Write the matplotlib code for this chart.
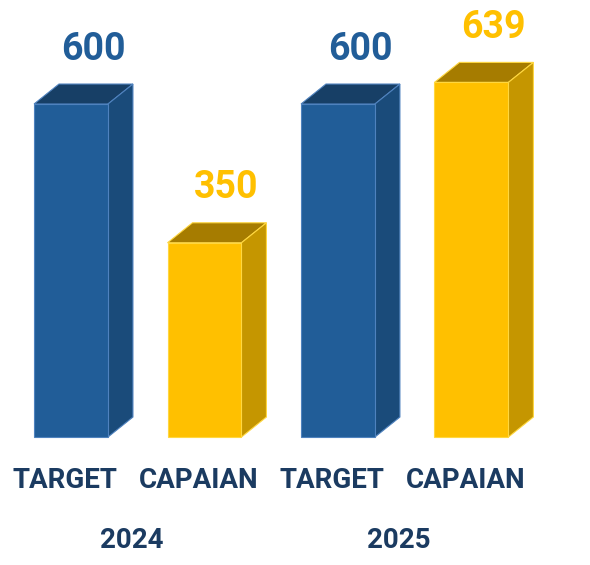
import matplotlib
matplotlib.use("Agg")
import matplotlib.pyplot as plt
from matplotlib.patches import Polygon

categories = ["TARGET", "CAPAIAN", "TARGET", "CAPAIAN"]
years = ["2024", "2025"]
values = [600, 350, 600, 639]
kinds = ["target", "actual", "target", "actual"]

colors = {
    "target": dict(front="#215D98", top="#173F66", side="#1A4B7A", edge="#4F82BE", text="#215D98"),
    "actual": dict(front="#FFC000", top="#A67C00", side="#C59600", edge="#FFD740", text="#FFC000"),
}
label_color = "#1B3B61"

plt.rcParams['font.family'] = ['Roboto', 'DejaVu Sans']

fig = plt.figure(figsize=(5.9, 5.65), dpi=100)
ax = fig.add_axes([0, 0, 1, 1])
ax.set_xlim(-0.532, 3.888)
ax.set_ylim(-230.6, 787.4)
ax.axis("off")

x = list(range(len(values)))
width = 0.554
dx = 0.187   # depth in x (data units)
dy = 36      # depth in y (data units)

for xi, v, k in zip(x, values, kinds):
    c = colors[k]
    l, r = xi - width / 2, xi + width / 2
    ax.bar(xi, v, width=width, color=c["front"], edgecolor=c["edge"], linewidth=0.8, zorder=3)
    top = Polygon([(l, v), (r, v), (r + dx, v + dy), (l + dx, v + dy)], closed=True,
                  facecolor=c["top"], edgecolor=c["edge"], linewidth=0.8, zorder=2)
    side = Polygon([(r, 0), (r + dx, dy), (r + dx, v + dy), (r, v)], closed=True,
                   facecolor=c["side"], edgecolor=c["edge"], linewidth=0.8, zorder=2)
    ax.add_patch(top)
    ax.add_patch(side)
    ax.text(xi + 0.165, v + 99, f"{v}", ha="center", va="center", fontsize=27,
            fontweight="bold", color=c["text"], zorder=4)

for xi, cat in zip(x, categories):
    ax.text(xi - 0.045, -77.5, cat, ha="center", va="center", fontsize=20,
            fontweight="bold", color=label_color)

for i, yr in enumerate(years):
    ax.text(2 * i + 0.457, -186, yr, ha="center", va="center", fontsize=20,
            fontweight="bold", color=label_color)

fig.savefig("out.png", dpi=100, facecolor="white")
